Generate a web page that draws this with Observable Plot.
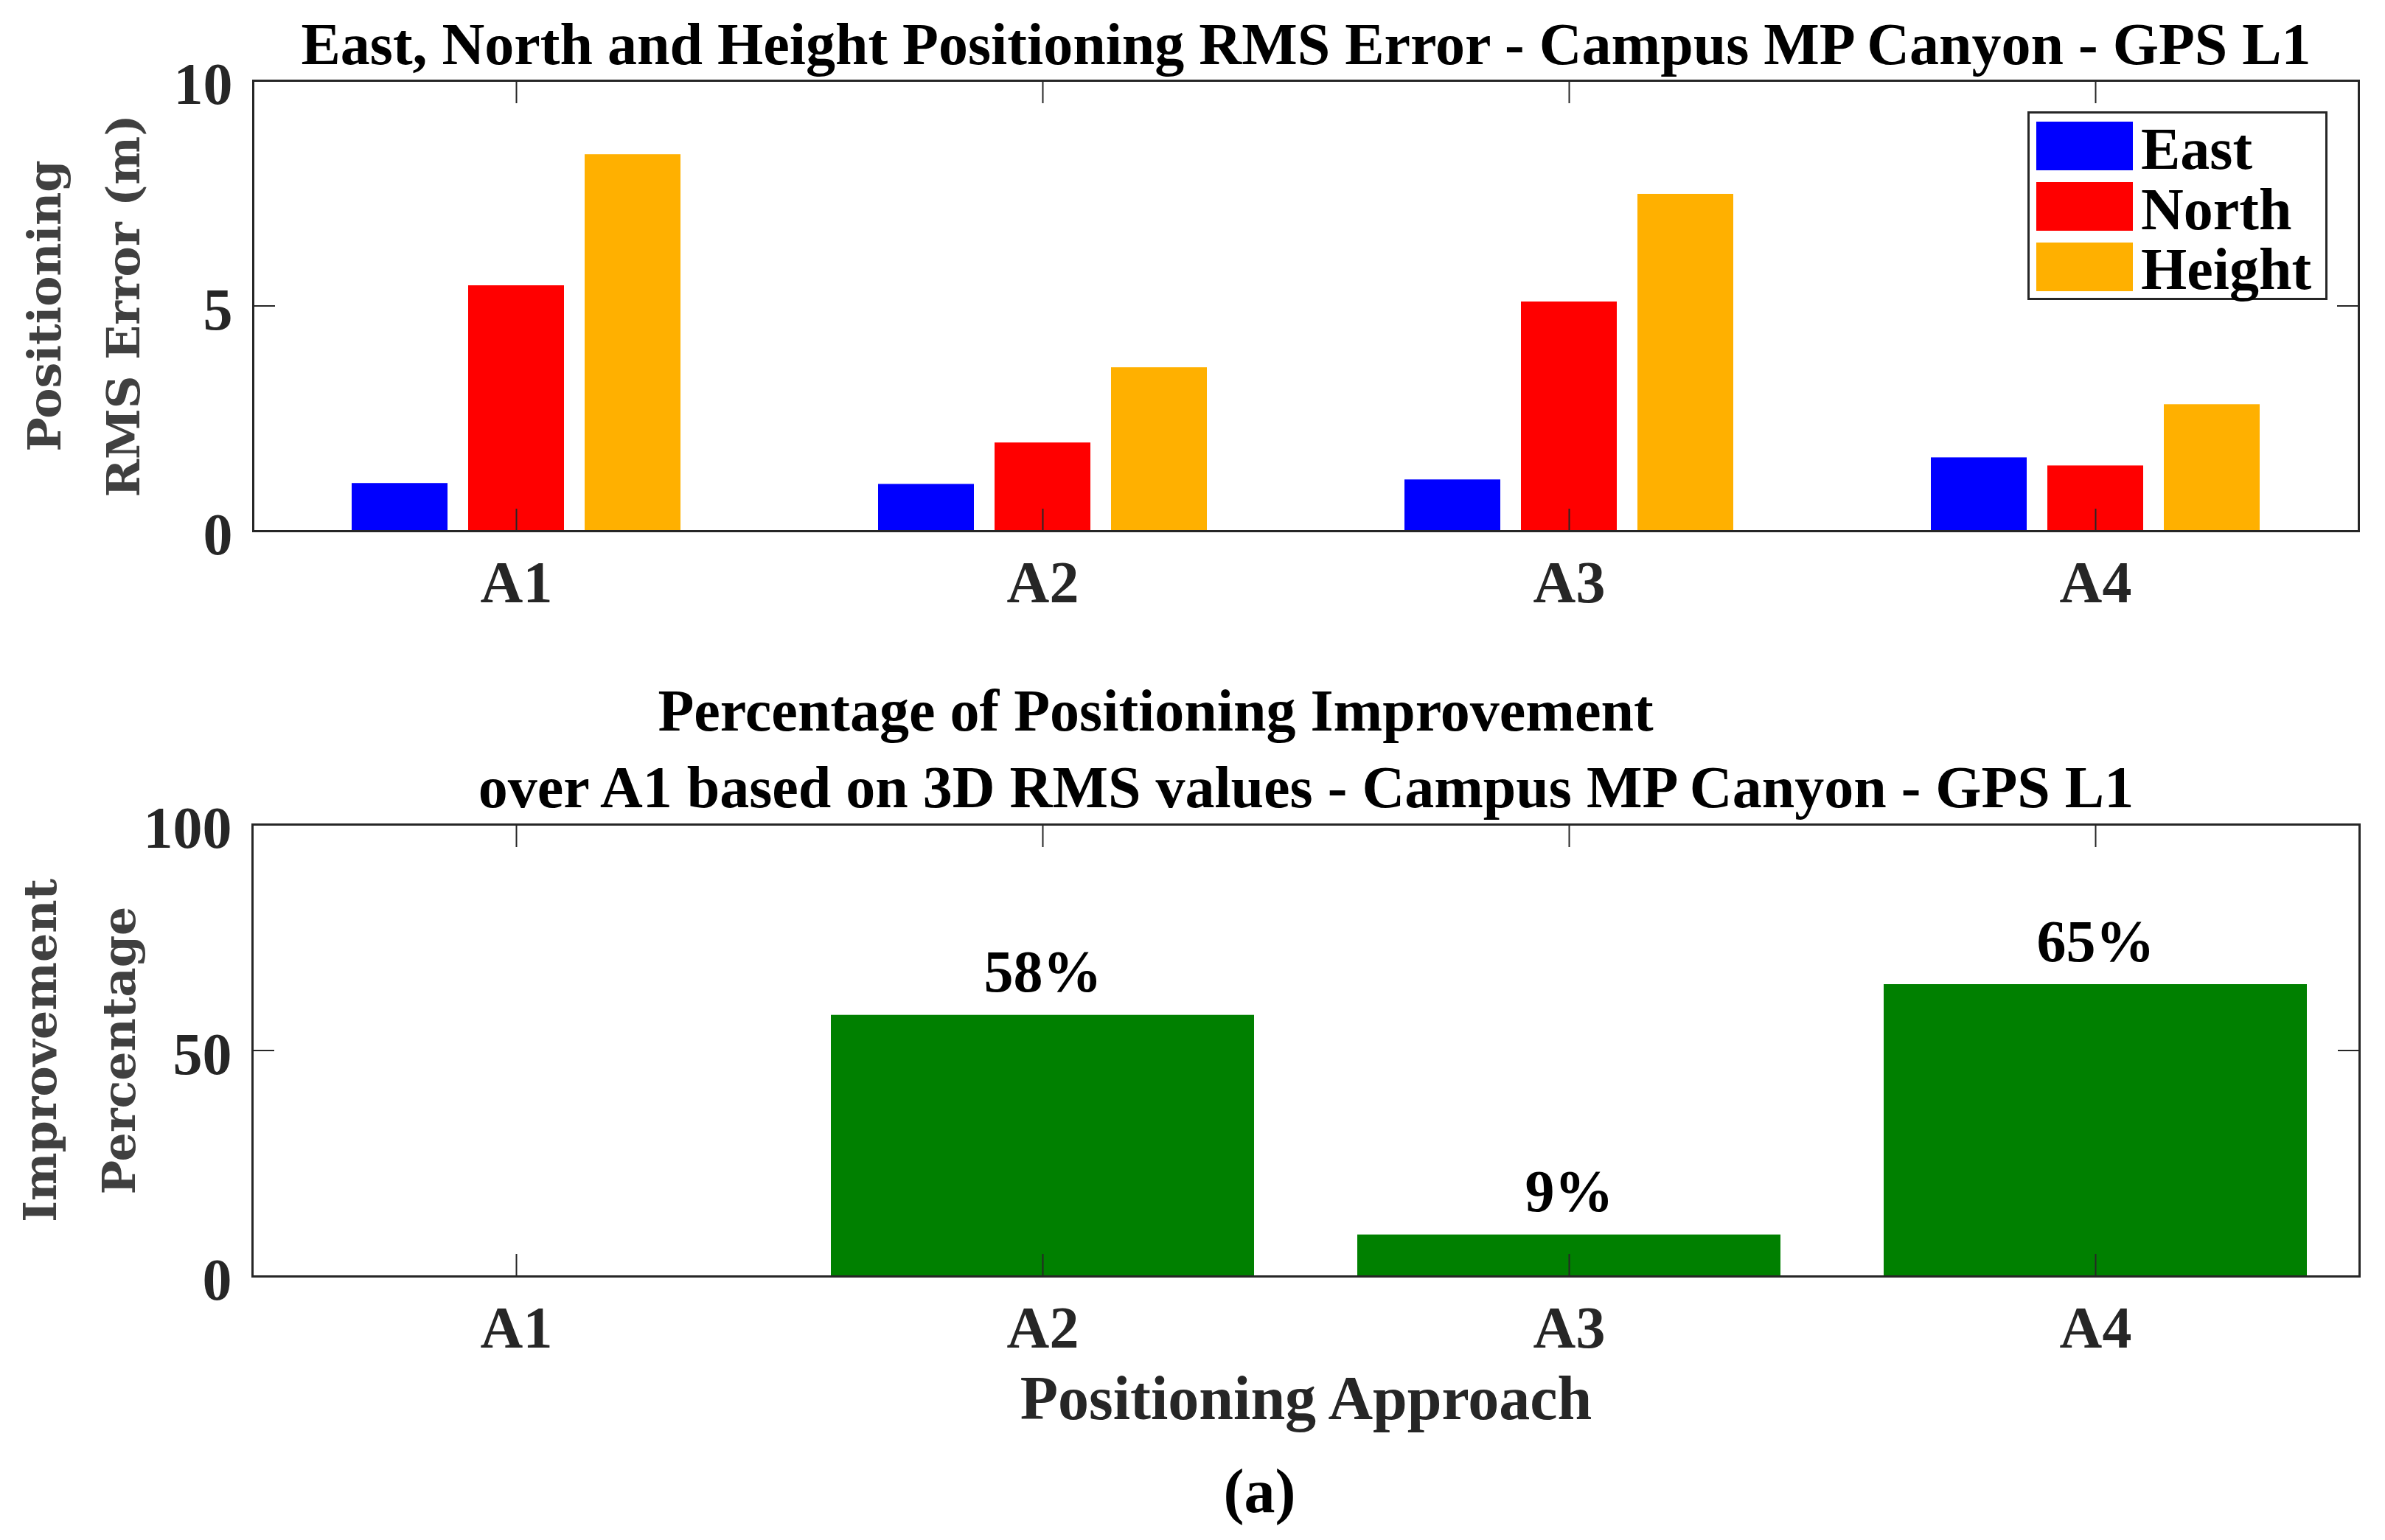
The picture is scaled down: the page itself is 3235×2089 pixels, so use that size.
<!DOCTYPE html>
<html>
<head>
<meta charset="utf-8">
<script src="https://cdn.jsdelivr.net/npm/d3@7"></script>
<script src="https://cdn.jsdelivr.net/npm/@observablehq/plot@0.6"></script>
<style>
html, body { margin: 0; padding: 0; background: #fff; }
#wrap { position: relative; width: 3235px; height: 2089px; background: #fff; }
#top, #bottom { position: absolute; left: 0; }
#top { top: 0; }
#bottom { top: 900px; }
svg { display: block; }
</style>
</head>
<body>
<div id="wrap"><div id="top"></div><div id="bottom"></div></div>
<script>
// ---------- data ----------
const categories = ["A1", "A2", "A3", "A4"];
const series = ["East", "North", "Height"];
const seriesColors = ["#0000FF", "#FF0000", "#FFB000"];
const eastRMS = [1.06, 1.04, 1.14, 1.63];
const northRMS = [5.45, 1.96, 5.09, 1.45];
const heightRMS = [8.36, 3.63, 7.48, 2.81];
const rmsTicks = [0, 5, 10];
const improvement = [0, 57.8, 9.2, 64.6];
const improvementTicks = [0, 50, 100];
const improvementColor = "#008000";
const topTitle = "East, North and Height Positioning RMS Error - Campus MP Canyon - GPS L1";
const bottomTitle1 = "Percentage of Positioning Improvement";
const bottomTitle2 = "over A1 based on 3D RMS values - Campus MP Canyon - GPS L1";
const topYLabel = ["Positioning", "RMS Error (m)"];
const bottomYLabel = ["Improvement", "Percentage"];
const xLabel = "Positioning Approach";
const caption = "(a)";

// ---------- styling ----------
const serif = "'Liberation Serif', 'Times New Roman', serif";
const labelFont = "'DejaVu Serif', serif";
const axisColor = "#262626";
const ylabelColor = "#404040";
const baseStyle = {fontFamily: serif, fontSize: "80px", fontWeight: "bold", color: axisColor, background: "white", overflow: "visible"};

const rms = [];
[eastRMS, northRMS, heightRMS].forEach((arr, s) =>
  arr.forEach((v, i) => rms.push({cat: categories[i], series: series[s], value: v})));
const groupOffset = {East: -158, North: 0, Height: 158};

function frameAxes(ticks) {
  return [
    Plot.frame({stroke: axisColor, strokeWidth: 3}),
    Plot.axisX({anchor: "bottom", tickSize: -30, fill: "none", stroke: axisColor, strokeWidth: 2, label: null}),
    Plot.axisX({anchor: "top", tickSize: -30, fill: "none", stroke: axisColor, strokeWidth: 2, label: null}),
    Plot.axisY({anchor: "left", ticks, tickSize: -30, fill: "none", stroke: axisColor, strokeWidth: 2, label: null}),
    Plot.axisY({anchor: "right", ticks, tickSize: -30, fill: "none", stroke: axisColor, strokeWidth: 2, label: null}),
    Plot.axisX({anchor: "bottom", tickSize: 0, tickPadding: 40, fill: axisColor, label: null}),
    Plot.axisY({anchor: "left", ticks, tickSize: 0, tickPadding: 28, dy: 6, fill: axisColor, label: null})
  ];
}

function yLabelMarks(lines, baselines, marginLeft) {
  return lines.map((t, i) => Plot.text([t], {
    text: d => d, frameAnchor: "left", rotate: -90, dx: baselines[i] - marginLeft,
    lineAnchor: "bottom", textAnchor: "middle", fontFamily: labelFont, fontSize: 62, fill: ylabelColor
  }));
}

// ---------- top chart ----------
const p1 = Plot.plot({
  width: 3235, height: 900,
  marginTop: 109, marginBottom: 180, marginLeft: 343, marginRight: 36,
  style: baseStyle,
  x: {type: "band", domain: categories, padding: 0, axis: null},
  y: {domain: [0, 10], axis: null},
  color: {domain: series, range: seriesColors},
  marks: [
    ...series.map(s => Plot.barY(rms.filter(d => d.series === s), {
      x: "cat", y: "value", fill: "series", dx: groupOffset[s], insetLeft: 292, insetRight: 292
    })),
    ...frameAxes(rmsTicks),
    Plot.text([topTitle], {text: d => d, frameAnchor: "top", dy: -23, lineAnchor: "bottom", fill: "black"}),
    ...yLabelMarks(topYLabel, [81, 188], 343)
  ]
});
document.getElementById("top").appendChild(p1);

// legend (colours from the plot's color scale)
const colorScale = p1.scale("color");
const lg = d3.select(p1).append("g").attr("class", "legend").attr("text-anchor", "start");
lg.append("rect").attr("x", 2751.5).attr("y", 152.5).attr("width", 404).attr("height", 253)
  .attr("fill", "white").attr("stroke", axisColor).attr("stroke-width", 3);
series.forEach((s, i) => {
  lg.append("rect").attr("x", 2762).attr("y", 165 + i * 82).attr("width", 131).attr("height", 66)
    .attr("fill", colorScale.apply(s));
  lg.append("text").attr("x", 2904).attr("y", 229 + i * 81.5).attr("fill", "black")
    .attr("text-anchor", "start")
    .attr("font-family", serif).attr("font-size", 80).attr("font-weight", "bold").text(s);
});

// ---------- bottom chart ----------
const imp = categories.map((c, i) => ({cat: c, value: improvement[i]}));
const p2 = Plot.plot({
  width: 3235, height: 1189,
  marginTop: 218, marginBottom: 358, marginLeft: 342, marginRight: 35,
  style: baseStyle,
  x: {type: "band", domain: categories, padding: 0, axis: null},
  y: {domain: [0, 100], axis: null},
  marks: [
    Plot.barY(imp, {x: "cat", y: "value", fill: improvementColor, insetLeft: 70, insetRight: 70}),
    Plot.text(imp.filter(d => d.value > 0), {
      x: "cat", y: "value", text: d => `${Math.round(d.value)}%`, dy: -32, lineAnchor: "bottom", fill: "black"
    }),
    ...frameAxes(improvementTicks),
    Plot.text([bottomTitle1], {text: d => d, frameAnchor: "top", dx: -204, dy: -128, lineAnchor: "bottom", fill: "black"}),
    Plot.text([bottomTitle2], {text: d => d, frameAnchor: "top", dy: -24, lineAnchor: "bottom", fill: "black"}),
    Plot.text([xLabel], {text: d => d, frameAnchor: "bottom", dy: 193, lineAnchor: "bottom", fill: axisColor, fontSize: 84}),
    Plot.text([caption], {text: d => d, frameAnchor: "bottom", dx: -63, dy: 319, lineAnchor: "bottom", fill: "black", fontSize: 84}),
    ...yLabelMarks(bottomYLabel, [75, 182], 342)
  ]
});
document.getElementById("bottom").appendChild(p2);
</script>
</body>
</html>
